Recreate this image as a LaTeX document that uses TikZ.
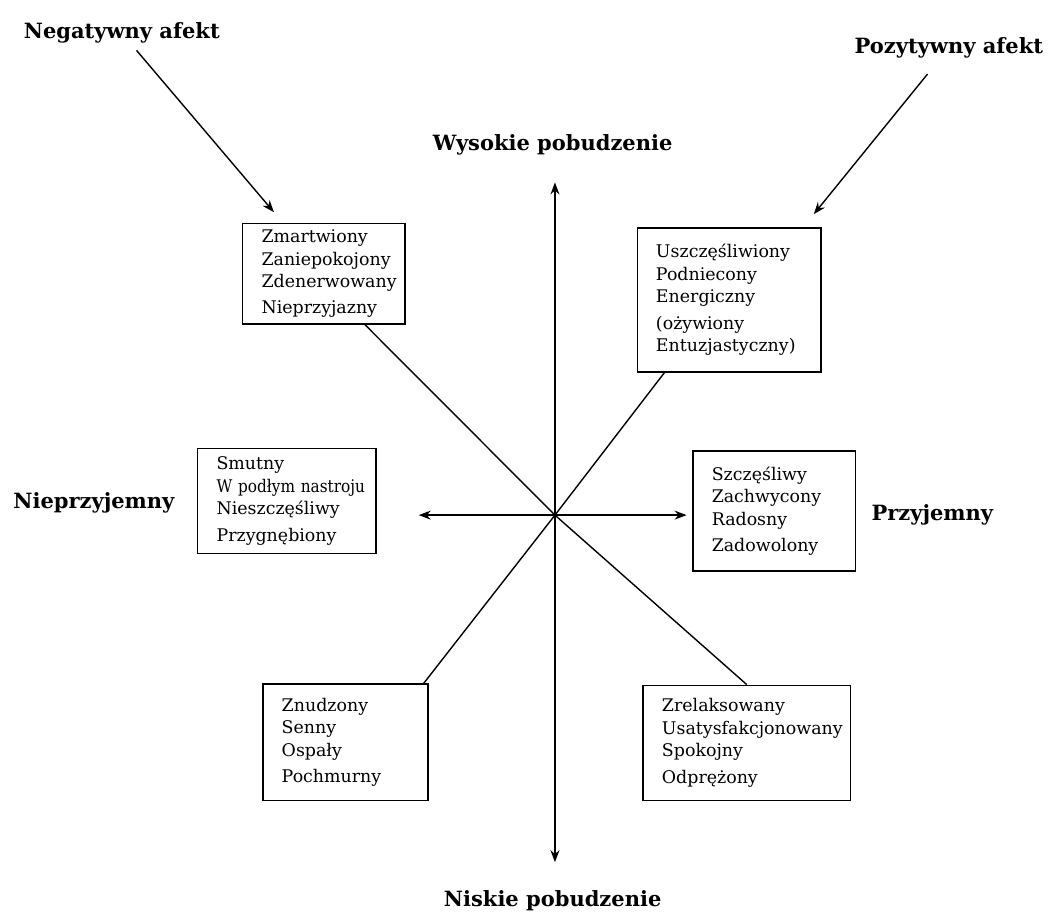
\documentclass[tikz,border=0pt]{standalone}
\usepackage{fontspec}
\setmainfont{DejaVu Serif}
\newfontfamily\narrowserif[FakeStretch=0.88]{DejaVu Serif}
\usetikzlibrary{arrows.meta}
\tikzstyle{mood} = [rectangle, draw=black, line width=0.7pt, align=left, inner xsep=0.33cm, inner ysep=2pt, font=\fontsize{8.7}{11.2}\selectfont]
\tikzstyle{heading} = [font=\bfseries\fontsize{10.5}{12}\selectfont]
\tikzstyle{arrow} = [line width=0.7pt,->,>={Stealth[length=6pt,width=4.5pt]}]
\tikzstyle{axis} = [line width=0.7pt,<->,>={Stealth[length=6pt,width=4.5pt]}]
\tikzstyle{spoke} = [line width=0.7pt]

\begin{document}
\begin{tikzpicture}[node distance=4cm]
\useasboundingbox (-9.75,-6.96) rectangle (8.68,9.05);
\coordinate (centre) at (0,0);
\node (worried) [mood, left of=centre, xshift=-0.06cm, yshift=4.24cm, text width=2.19cm, minimum height=1.76cm] {Zmartwiony\\Zaniepokojony\\Zdenerwowany\\[2pt]Nieprzyjazny};
\node (elated) [mood, right of=centre, xshift=-0.94cm, yshift=3.78cm, text width=2.57cm, minimum height=2.53cm] {Uszczęśliwiony\\Podniecony\\Energiczny\\[2pt](ożywiony\\Entuzjastyczny)};
\node (sad) [mood, left of=centre, xshift=-0.71cm, yshift=0.25cm, text width=2.47cm, minimum height=1.85cm] {Smutny\\{\narrowserif\mbox{W podłym nastroju}}\\Nieszczęśliwy\\[2pt]Przygnębiony};
\node (happy) [mood, right of=centre, xshift=-0.15cm, yshift=0.07cm, text width=2.19cm, minimum height=2.11cm] {Szczęśliwy\\Zachwycony\\Radosny\\[2pt]Zadowolony};
\node (bored) [mood, left of=centre, xshift=0.32cm, yshift=-3.99cm, text width=2.24cm, minimum height=2.04cm] {Znudzony\\Senny\\Ospały\\[2pt]Pochmurny};
\node (relaxed) [mood, right of=centre, xshift=-0.63cm, yshift=-4cm, text width=2.98cm, minimum height=2.02cm] {Zrelaksowany\\Usatysfakcjonowany\\Spokojny\\[2pt]Odprężony};
\node (higharousal) [heading, above of=centre, xshift=-0.04cm, yshift=2.5cm] {Wysokie pobudzenie};
\node (lowarousal) [heading, below of=centre, xshift=-0.04cm, yshift=-2.77cm] {Niskie pobudzenie};
\node (unpleasant) [heading, left of=sad, xshift=0.61cm, yshift=-0.04cm] {Nieprzyjemny};
\node (pleasant) [heading, right of=happy, xshift=-1.22cm, yshift=-0.07cm] {Przyjemny};
\node (negaffect) [heading, above of=worried, xshift=-3.55cm, yshift=0.23cm] {Negatywny afekt};
\node (posaffect) [heading, above of=elated, xshift=3.86cm, yshift=0.43cm] {Pozytywny afekt};
\coordinate (negtip) at ([xshift=0.56cm, yshift=0.19cm]worried.north west);
\coordinate (postip) at ([xshift=-0.14cm, yshift=0.23cm]elated.north east);
\draw [axis, shorten <=0.37cm, shorten >=0.35cm] (centre |- lowarousal.north) -- (centre |- higharousal.south);
\draw [axis, shorten <=0.74cm, shorten >=0.1cm] (sad.east |- centre) -- (happy.west |- centre);
\draw [spoke] ([xshift=0.72cm]worried.south) -- (centre) -- (relaxed.north);
\draw [spoke] ([xshift=0.49cm]elated.south west) -- (centre) -- ([xshift=-0.09cm]bored.north east);
\draw [arrow] (negaffect) -- (negtip);
\draw [arrow, shorten <=0.2cm] (posaffect) -- (postip);
\end{tikzpicture}
\end{document}
